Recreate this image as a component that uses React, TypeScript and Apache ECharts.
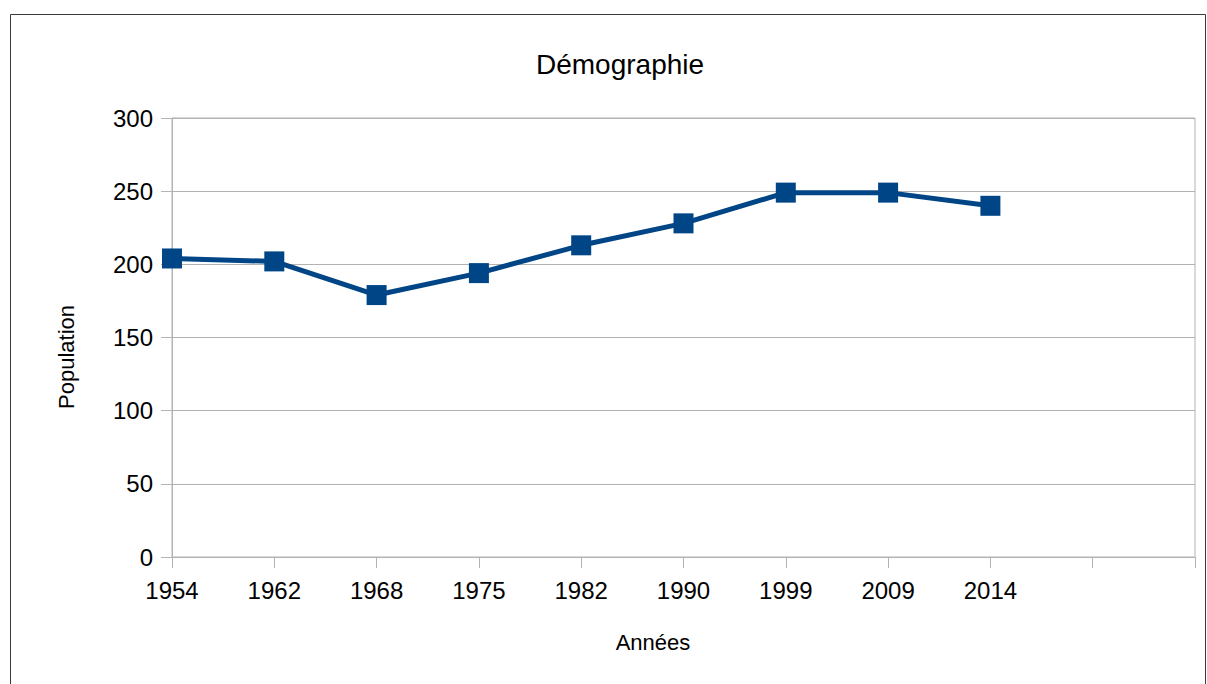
import React, { useEffect, useRef } from "react";
import * as echarts from "echarts";

const years = ["1954", "1962", "1968", "1975", "1982", "1990", "1999", "2009", "2014", "", ""];
const population = [204, 202, 179, 194, 213, 228, 249, 249, 240];
const title = "Démographie";
const xName = "Années";
const yName = "Population";

export default function App() {
  const ref = useRef<HTMLDivElement>(null);
  useEffect(() => {
    const chart = echarts.init(ref.current!, null, { renderer: "svg" });
    const font = "'Liberation Sans', Arial, sans-serif";
    chart.setOption({
      animation: false,
      backgroundColor: "#ffffff",
      title: {
        text: title,
        left: 531,
        top: 45,
        textStyle: { fontFamily: font, fontSize: 28, fontWeight: "normal", color: "#000" },
      },
      grid: {
        left: 172,
        top: 118,
        right: 12,
        bottom: 127,
        show: true,
        borderColor: "#b3b3b3",
        borderWidth: 1,
      },
      xAxis: {
        type: "category",
        data: years,
        boundaryGap: false,
        axisLine: { lineStyle: { color: "#b3b3b3", width: 1 } },
        axisTick: { show: true, length: 11, inside: false, lineStyle: { color: "#b3b3b3" }, alignWithLabel: true },
        axisLabel: { fontFamily: font, fontSize: 24, color: "#000", margin: 21, interval: 0 },
        splitLine: { show: false },
      },
      yAxis: {
        type: "value",
        min: 0,
        max: 300,
        interval: 50,
        axisLine: { show: true, lineStyle: { color: "#b3b3b3", width: 1 } },
        axisTick: { show: true, length: 11, lineStyle: { color: "#b3b3b3" } },
        axisLabel: { fontFamily: font, fontSize: 24, color: "#000", margin: 19 },
        splitLine: { show: true, lineStyle: { color: "#b3b3b3", width: 1 } },
      },
      series: [
        {
          type: "line",
          data: population,
          symbol: "rect",
          symbolSize: 20,
          showAllSymbol: true,
          lineStyle: { color: "#004586", width: 5 },
          itemStyle: { color: "#004586" },
        },
      ],
      graphic: [
        {
          type: "rect",
          shape: { x: 10.5, y: 14.5, width: 1195, height: 720 },
          style: { fill: "none", stroke: "#3a3a3a", lineWidth: 1 },
          silent: true,
        },
        {
          type: "text",
          x: 653,
          y: 642,
          style: {
            text: xName,
            fontFamily: font,
            fontSize: 22,
            fill: "#000",
            align: "center",
            verticalAlign: "middle",
          },
          silent: true,
        },
        {
          type: "text",
          x: 66,
          y: 357,
          rotation: Math.PI / 2,
          style: {
            text: yName,
            fontFamily: font,
            fontSize: 22,
            fill: "#000",
            align: "center",
            verticalAlign: "middle",
          },
          silent: true,
        },
      ],
    });
    return () => chart.dispose();
  }, []);
  return (
    <div
      ref={ref}
      style={{ position: "fixed", left: 0, top: 0, width: 1207, height: 684 }}
    />
  );
}
